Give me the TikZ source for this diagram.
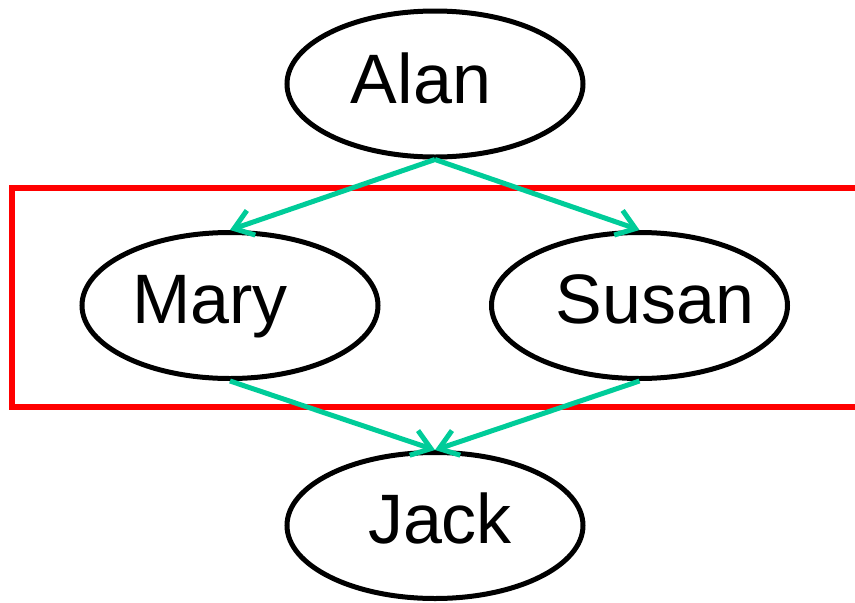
\documentclass[tikz,border=0pt]{standalone}
\usepackage{fontspec}
\setmainfont{Liberation Sans}
\usetikzlibrary{shapes.geometric,arrows.meta}
\definecolor{edgegreen}{RGB}{0,204,153}
\definecolor{boxred}{RGB}{255,0,0}
\tikzset{
  person/.style={ellipse, draw=black, line width=5pt, minimum width=296pt, minimum height=146pt, inner sep=0pt},
  nametext/.style={anchor=base, inner sep=0pt, font=\fontsize{70}{84}\selectfont},
  link/.style={draw=edgegreen, line width=5pt, -{Straight Barb[length=18pt,width=26pt]}},
  groupbox/.style={draw=boxred, line width=6.5pt}
}
\begin{document}
\begin{tikzpicture}[x=1pt,y=-1pt]
\useasboundingbox (0,0) rectangle (855,603);
\clip (0,0) rectangle (855,603);
\node[person] (alan) at (435,84) {};
\node[person] (mary) at (230,305.5) {};
\node[person] (susan) at (639.5,305.5) {};
\node[person] (jack) at (435,525.5) {};
\node[nametext] (alant) at (421,103) {Alan};
\node[nametext] (maryt) at (210,323) {Mary};
\node[nametext] (susant) at (655,323) {Susan};
\node[nametext] (jackt) at (440,543) {Jack};
\draw[groupbox] (12,188) coordinate (boxa) rectangle (880,407) coordinate (boxb);
\draw[link] (alan.south) -- (mary.north);
\draw[link] (alan.south) -- (susan.north);
\draw[link] (mary.south) -- (jack.north);
\draw[link] (susan.south) -- (jack.north);
\end{tikzpicture}
\end{document}
